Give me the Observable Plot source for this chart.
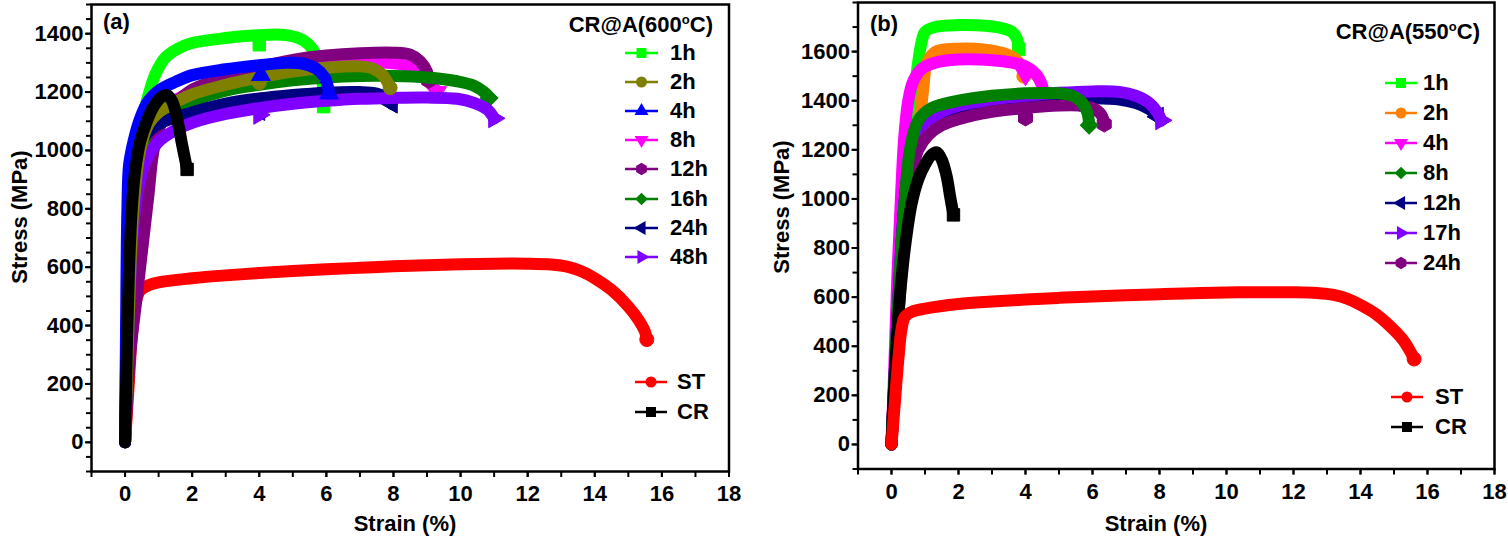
<!DOCTYPE html>
<html>
<head>
<meta charset="utf-8">
<script src="https://cdn.jsdelivr.net/npm/d3@7"></script>
<script src="https://cdn.jsdelivr.net/npm/@observablehq/plot@0.6"></script>
<style>
  body { margin: 0; background: #fff; }
  #root { position: relative; width: 1508px; height: 542px; overflow: hidden;
          font-family: "Liberation Sans", Arial, sans-serif; font-weight: bold; color: #000; }
  .panel { position: absolute; top: 0; }
  .t { position: absolute; white-space: nowrap; font-size: 22px; line-height: 22px; }
  .t sup { font-size: 13px; line-height: 0; vertical-align: 8px; }
  .sym { position: absolute; overflow: visible; }
</style>
</head>
<body>
<div id="root"></div>
<script>
// ---------------- data: panel (a) CR@A(600°C) ----------------
const aST  = [[0,0],[0.1,180],[0.2,360],[0.3,470],[0.45,520],[0.7,538],[1,548],[2,562],[3,572],[4,580],[5,587],[6,593],[7,598],[8,603],[9,607],[10,610],[11,612],[12,612],[12.7,609],[13.2,601],[13.6,586],[14,562],[14.5,522],[15,465],[15.3,420],[15.5,378],[15.55,352]];
const aCR  = [[0,0],[0.05,300],[0.12,600],[0.2,800],[0.3,930],[0.45,1030],[0.65,1100],[0.85,1150],[1.05,1180],[1.25,1190],[1.4,1170],[1.55,1110],[1.7,1020],[1.85,935]];
const a1h  = [[0,0],[0.08,400],[0.18,750],[0.3,950],[0.5,1100],[0.7,1190],[0.9,1260],[1.2,1318],[1.6,1350],[2,1368],[3,1385],[4,1395],[4.8,1395],[5.3,1378],[5.6,1345],[5.8,1290],[5.9,1220],[5.92,1150]];
const a2h  = [[0,0],[0.1,400],[0.25,800],[0.45,1000],[0.7,1090],[1,1130],[1.5,1165],[2,1192],[3,1225],[4,1250],[5,1270],[6,1283],[7,1288],[7.4,1280],[7.7,1255],[7.9,1215]];
const a4h  = [[0,0],[0.03,400],[0.07,800],[0.12,950],[0.25,1030],[0.45,1110],[0.7,1170],[1,1205],[1.5,1235],[2,1258],[3,1278],[4,1292],[4.8,1300],[5.3,1297],[5.7,1280],[5.95,1250],[6.05,1215],[6.08,1195]];
const a8h  = [[0,0],[0.12,400],[0.3,800],[0.5,1000],[0.8,1100],[1.2,1150],[2,1200],[3,1235],[4,1258],[5,1275],[6,1288],[7,1298],[7.8,1300],[8.4,1290],[8.8,1265],[9.1,1230],[9.3,1200]];
const a12h = [[0,0],[0.15,300],[0.35,500],[0.55,700],[0.7,850],[0.85,1000],[1.1,1100],[1.5,1160],[2,1208],[3,1252],[4,1285],[5,1310],[6,1325],[7,1333],[8,1335],[8.5,1328],[8.8,1305],[9.0,1270],[9.05,1240]];
const a16h = [[0,0],[0.1,400],[0.25,800],[0.45,990],[0.75,1080],[1.2,1130],[2,1170],[3,1205],[4,1225],[5,1240],[6,1250],[7,1255],[8,1255],[9,1250],[9.9,1237],[10.4,1222],[10.7,1200],[10.85,1180]];
const a24h = [[0,0],[0.05,400],[0.15,800],[0.3,960],[0.6,1050],[1,1090],[2,1130],[3,1160],[4,1178],[5,1190],[6,1198],[7,1200],[7.5,1195],[7.8,1180],[7.95,1160]];
const a48h = [[0,0],[0.1,400],[0.3,800],[0.6,960],[1,1030],[1.5,1070],[2,1095],[3,1125],[4,1145],[5,1160],[6,1170],[7,1177],[8,1180],[9,1181],[9.9,1177],[10.4,1163],[10.8,1140],[11.0,1110]];
// visible marker points
const aSTMarks = [[15.55,352]];
const aCRMarks = [[1.85,935]];
const a1hMarks = [[4.0,1362],[5.92,1150]];
const a2hMarks = [[4.0,1232],[7.9,1215]];
const a4hMarks = [[4.05,1258],[6.08,1195]];
const a8hMarks = [[9.3,1200]];
const a12hMarks = [[9.05,1240]];
const a16hMarks = [[10.85,1180]];
const a24hMarks = [[4.0,1135],[7.95,1160]];
const a48hMarks = [[4.0,1122],[11.0,1110]];

// ---------------- data: panel (b) CR@A(550°C) ----------------
const bST  = [[0,0],[0.1,170],[0.2,340],[0.3,470],[0.4,520],[0.6,540],[1,553],[2,572],[3,582],[4,590],[5,597],[6,603],[7,608],[8,612],[9,616],[10,619],[11,620],[12,620],[12.7,617],[13.2,609],[13.6,594],[14,568],[14.5,527],[15,466],[15.3,420],[15.5,375],[15.6,348]];
const bCR  = [[0,0],[0.05,150],[0.15,400],[0.25,600],[0.4,800],[0.6,980],[0.8,1080],[1.0,1140],[1.2,1180],[1.35,1190],[1.5,1160],[1.65,1090],[1.75,1010],[1.85,935]];
const b1h  = [[0,0],[0.1,300],[0.25,700],[0.4,1000],[0.55,1250],[0.7,1450],[0.8,1560],[0.9,1640],[1.0,1680],[1.3,1700],[2,1708],[2.8,1705],[3.3,1695],[3.6,1680],[3.75,1650],[3.8,1610]];
const b2h  = [[0,0],[0.1,300],[0.3,700],[0.5,1000],[0.7,1200],[0.85,1330],[0.95,1450],[1.05,1550],[1.3,1598],[2,1612],[2.8,1608],[3.3,1595],[3.7,1570],[3.9,1530],[3.95,1500]];
const b4h  = [[0,0],[0.08,300],[0.18,700],[0.28,1000],[0.38,1250],[0.5,1400],[0.65,1480],[0.9,1530],[1.3,1555],[2,1568],[3,1565],[3.6,1555],[4.0,1540],[4.3,1510],[4.5,1460],[4.55,1420]];
const b8h  = [[0,0],[0.1,300],[0.25,700],[0.4,1000],[0.55,1200],[0.8,1320],[1.2,1370],[2,1400],[3,1420],[4,1430],[5,1430],[5.4,1420],[5.7,1390],[5.85,1350],[5.9,1300]];
const b12h = [[0,0],[0.1,300],[0.25,700],[0.4,1000],[0.6,1200],[0.9,1300],[1.5,1350],[2,1370],[3,1390],[4,1400],[5,1408],[6,1410],[6.8,1405],[7.3,1390],[7.7,1365],[7.95,1335]];
const b17h = [[0,0],[0.1,300],[0.25,700],[0.4,1000],[0.6,1200],[0.9,1300],[1.5,1355],[2,1380],[3,1405],[4,1420],[5,1432],[6,1438],[6.8,1436],[7.3,1420],[7.7,1390],[7.95,1350],[8.05,1320]];
const b24h = [[0,0],[0.1,250],[0.2,500],[0.3,750],[0.45,950],[0.6,1100],[0.8,1200],[1.1,1260],[1.5,1300],[2,1325],[3,1355],[4,1370],[5,1380],[5.6,1380],[6.0,1370],[6.25,1345],[6.35,1310]];
const bSTMarks = [[15.6,348]];
const bCRMarks = [[1.85,935]];
const b1hMarks = [[3.8,1610]];
const b2hMarks = [[3.95,1500]];
const b4hMarks = [[4.0,1505],[4.55,1420]];
const b8hMarks = [[5.9,1300]];
const b12hMarks = [[7.95,1335]];
const b17hMarks = [[8.05,1320]];
const b24hMarks = [[4.0,1330],[6.35,1305]];

// ---------------- labels / ticks ----------------
const xTicks = [0, 2, 4, 6, 8, 10, 12, 14, 16, 18];
const aYTicks = [0, 200, 400, 600, 800, 1000, 1200, 1400];
const bYTicks = [0, 200, 400, 600, 800, 1000, 1200, 1400, 1600];
const aLegendTitle = ["CR@A(600", "o", "C)"];
const bLegendTitle = ["CR@A(550", "o", "C)"];
const aLegendLabels = ["1h", "2h", "4h", "8h", "12h", "16h", "24h", "48h"];
const bLegendLabels = ["1h", "2h", "4h", "8h", "12h", "17h", "24h"];
const refLabels = ["ST", "CR"];
const xTitle = "Strain (%)";
const yTitle = "Stress (MPa)";
const panelTags = ["(a)", "(b)"];

// ---------------- styles ----------------
const C = {lime:"#00ff00", olive:"#808000", blue:"#0000ff", magenta:"#ff00ff", purple:"#800080",
           green:"#008000", navy:"#000080", violet:"#8000ff", orange:"#ff8000", red:"#ff0000", black:"#000000"};
// symbol spec: [plot symbol, rotation]
const SQ = ["square", 0], CI = ["circle", 0], UP = ["triangle", 0], DN = ["triangle", 180],
      LT = ["triangle", -90], RT = ["triangle", 90], DI = ["square", 45], HX = ["hexagon", 0];

const aSeries = {
  ST:  {data:aST,  marks:aSTMarks,  color:C.red,     sym:CI},
  "1h":{data:a1h,  marks:a1hMarks,  color:C.lime,    sym:SQ},
  "2h":{data:a2h,  marks:a2hMarks,  color:C.olive,   sym:CI},
  "4h":{data:a4h,  marks:a4hMarks,  color:C.blue,    sym:UP},
  "8h":{data:a8h,  marks:a8hMarks,  color:C.magenta, sym:DN},
  "12h":{data:a12h,marks:a12hMarks, color:C.purple,  sym:HX},
  "16h":{data:a16h,marks:a16hMarks, color:C.green,   sym:DI},
  "24h":{data:a24h,marks:a24hMarks, color:C.navy,    sym:LT},
  "48h":{data:a48h,marks:a48hMarks, color:C.violet,  sym:RT},
  CR:  {data:aCR,  marks:aCRMarks,  color:C.black,   sym:SQ}
};
const aOrder = ["ST","1h","8h","12h","16h","24h","48h","2h","4h","CR"];

const bSeries = {
  ST:  {data:bST,  marks:bSTMarks,  color:C.red,     sym:CI},
  "1h":{data:b1h,  marks:b1hMarks,  color:C.lime,    sym:SQ},
  "2h":{data:b2h,  marks:b2hMarks,  color:C.orange,  sym:CI},
  "4h":{data:b4h,  marks:b4hMarks,  color:C.magenta, sym:DN},
  "8h":{data:b8h,  marks:b8hMarks,  color:C.green,   sym:DI},
  "12h":{data:b12h,marks:b12hMarks, color:C.navy,    sym:LT},
  "17h":{data:b17h,marks:b17hMarks, color:C.violet,  sym:RT},
  "24h":{data:b24h,marks:b24hMarks, color:C.purple,  sym:HX},
  CR:  {data:bCR,  marks:bCRMarks,  color:C.black,   sym:SQ}
};
const bOrder = ["1h","2h","4h","12h","17h","24h","8h","CR","ST"];

const root = document.getElementById("root");

function makePanel(series, order, yTicks, yDomain, yMinorStep, m) {
  const marks = [];
  for (const k of order) {
    const s = series[k];
    marks.push(Plot.line(s.data, {x: d => d[0], y: d => d[1], stroke: s.color, strokeWidth: 12,
      curve: "catmull-rom", strokeLinejoin: "round", strokeLinecap: "round"}));
    marks.push(Plot.dot(s.marks, {x: d => d[0], y: d => d[1], symbol: s.sym[0], rotate: s.sym[1],
      r: 7, fill: s.color, stroke: s.color, strokeWidth: 1}));
  }
  const yMinor = d3.range(yDomain[0], yDomain[1] + 1, yMinorStep);
  const xMinor = d3.range(-1, 19, 1);
  marks.push(
    Plot.axisX(xMinor, {anchor: "bottom", tickSize: 6, strokeWidth: 2, tickFormat: () => "", label: null}),
    Plot.axisX(xTicks, {anchor: "bottom", tickSize: 6, tickPadding: 8, strokeWidth: 2, fontSize: 22,
      tickFormat: d => `${d}`, label: null}),
    Plot.axisY(yMinor, {anchor: "left", tickSize: 5, strokeWidth: 2, tickFormat: () => "", label: null}),
    Plot.axisY(yTicks, {anchor: "left", tickSize: 6, tickPadding: 2, strokeWidth: 2, fontSize: 22,
      tickFormat: d => `${d}`, label: null}),
    Plot.frame({stroke: "black", strokeWidth: 2.5})
  );
  return Plot.plot({
    width: 754, height: 542,
    marginLeft: m.l, marginRight: m.r, marginTop: m.t, marginBottom: m.b,
    x: {domain: [-1, 18], label: null},
    y: {domain: yDomain, label: null},
    style: {fontFamily: '"Liberation Sans", Arial, sans-serif', fontWeight: "bold", fontSize: "22px",
            background: "transparent", overflow: "visible", color: "black"},
    marks
  });
}

const pa = makePanel(aSeries, aOrder, aYTicks, [-100, 1500], 50, {l: 91, r: 25.5, t: 4, b: 71});
pa.classList.add("panel"); pa.style.left = "0px";
root.appendChild(pa);
const pb = makePanel(bSeries, bOrder, bYTicks, [-100, 1800], 100, {l: 103.5, r: 14, t: 2, b: 73.5});
pb.classList.add("panel"); pb.style.left = "754px";
root.appendChild(pb);

// ---------------- overlays (text + legends) ----------------
function addText(html, x, cy, align) {
  const d = document.createElement("div");
  d.className = "t";
  d.innerHTML = html;
  d.style.top = (cy - 11) + "px";
  if (align === "right") { d.style.right = (1508 - x) + "px"; }
  else if (align === "center") { d.style.left = x + "px"; d.style.transform = "translateX(-50%)"; }
  else d.style.left = x + "px";
  root.appendChild(d);
  return d;
}
function addVText(txt, cx, cy) {
  const d = document.createElement("div");
  d.className = "t";
  d.textContent = txt;
  d.style.left = cx + "px"; d.style.top = cy + "px";
  d.style.transform = "translate(-50%,-50%) rotate(-90deg)";
  root.appendChild(d);
}
function symbolPath(sym) {
  const [name, rot] = sym;
  let p;
  if (name === "hexagon") {
    const r = 6.2, pts = d3.range(6).map(i => { const a = Math.PI / 3 * i + Math.PI / 6; return [r * Math.cos(a), r * Math.sin(a)]; });
    p = "M" + pts.map(q => q.join(",")).join("L") + "Z";
  } else {
    const type = name === "square" ? d3.symbolSquare : name === "circle" ? d3.symbolCircle : d3.symbolTriangle;
    const size = name === "square" ? (rot ? 80 : 100) : name === "circle" ? 95 : 85;
    p = d3.symbol(type, size)();
  }
  return {p, rot};
}
function addLegendItem(series, key, label, x0, len, tx, cy) {
  const s = series[key];
  const ns = "http://www.w3.org/2000/svg";
  const svg = document.createElementNS(ns, "svg");
  svg.setAttribute("class", "sym");
  svg.setAttribute("width", len); svg.setAttribute("height", 20);
  svg.style.left = x0 + "px"; svg.style.top = (cy - 10) + "px";
  const line = document.createElementNS(ns, "line");
  line.setAttribute("x1", 0); line.setAttribute("x2", len); line.setAttribute("y1", 10); line.setAttribute("y2", 10);
  line.setAttribute("stroke", s.color); line.setAttribute("stroke-width", 2.5);
  svg.appendChild(line);
  const {p, rot} = symbolPath(s.sym);
  const path = document.createElementNS(ns, "path");
  path.setAttribute("d", p); path.setAttribute("fill", s.color);
  path.setAttribute("transform", `translate(${len / 2},10) rotate(${rot})`);
  svg.appendChild(path);
  root.appendChild(svg);
  addText(label, tx, cy, "left");
}

// panel tags
addText(panelTags[0], 103, 22, "left");
addText(panelTags[1], 870, 24, "left");
// axis titles
addText(xTitle, 405, 524, "center");
addText(xTitle, 1156, 524, "center");
addVText(yTitle, 20, 217);
addVText(yTitle, 782, 207);
// legend titles
addText(`${aLegendTitle[0]}<sup>${aLegendTitle[1]}</sup>${aLegendTitle[2]}`, 713, 25, "right");
addText(`${bLegendTitle[0]}<sup>${bLegendTitle[1]}</sup>${bLegendTitle[2]}`, 1480, 32, "right");
// legend entries
aLegendLabels.forEach((lab, i) => addLegendItem(aSeries, lab, lab, 625, 33, 670, 53 + i * 29.1));
bLegendLabels.forEach((lab, i) => addLegendItem(bSeries, lab, lab, 1385, 32, 1423, 83 + i * 30));
refLabels.forEach((lab, i) => addLegendItem(aSeries, lab, lab, 635, 32, 677, 382 + i * 30));
refLabels.forEach((lab, i) => addLegendItem(bSeries, lab, lab, 1391, 32, 1435, 397 + i * 30));
</script>
</body>
</html>
